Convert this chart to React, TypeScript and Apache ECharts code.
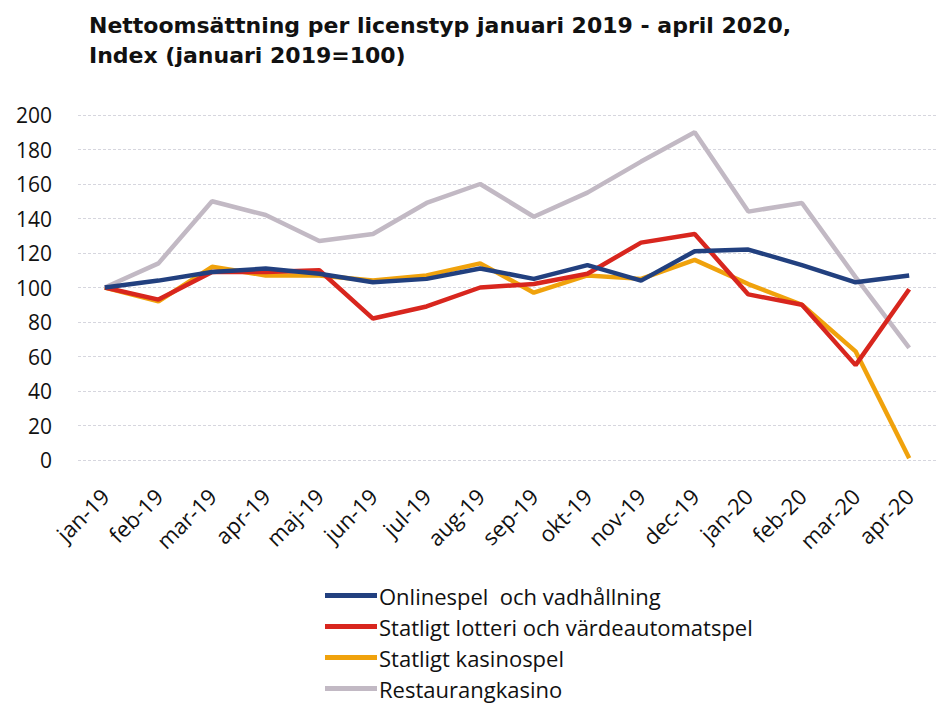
import React, { useEffect, useRef } from "react";
import * as echarts from "echarts";

const categories = ["jan-19","feb-19","mar-19","apr-19","maj-19","jun-19","jul-19","aug-19","sep-19","okt-19","nov-19","dec-19","jan-20","feb-20","mar-20","apr-20"];
const online = [100,104,109,111,108,103,105,111,105,113,104,121,122,113,103,107];
const lotteri = [100,93,109,109,110,82,89,100,102,108,126,131,96,90,55,99];
const kasino = [100,92,112,107,107,104,107,114,97,107,105,116,102,90,63,1];
const restaurang = [100,114,150,142,127,131,149,160,141,155,173,190,144,149,106,65];

const seriesNames = ["Onlinespel  och vadhållning","Statligt lotteri och värdeautomatspel","Statligt kasinospel","Restaurangkasino"];
const colors = ["#22407f","#d8261e","#f0a20c","#c2b9c4"];
const titleLines = ["Nettoomsättning per licenstyp januari 2019 - april 2020,","Index (januari 2019=100)"];

export default function App() {
  const ref = useRef<HTMLDivElement>(null);
  useEffect(() => {
    document.body.style.margin = "0";
    const chart = echarts.init(ref.current!, null, { renderer: "svg" });
    const data = [online, lotteri, kasino, restaurang];
    chart.setOption({
      animation: false,
      backgroundColor: "#ffffff",
      textStyle: { fontFamily: "Open Sans" },
      title: {
        text: titleLines.join("\n"),
        left: 84,
        top: 5,
        textStyle: { fontFamily: "DejaVu Sans", fontWeight: "bold", fontSize: 22, lineHeight: 30, color: "#111" },
      },
      legend: {
        orient: "vertical",
        left: 320,
        top: 579,
        height: 200,
        padding: 5,
        itemWidth: 52,
        itemHeight: 5,
        itemGap: 8,
        icon: "rect",
        data: seriesNames,
        textStyle: { fontSize: 22, lineHeight: 23, color: "#111", padding: [0, 0, 0, -3] },
      },
      grid: { left: 78, width: 866, top: 115, height: 345 },
      xAxis: {
        type: "category",
        data: categories,
        boundaryGap: true,
        axisLine: { show: false },
        axisTick: { show: false },
        axisLabel: { rotate: 45, fontSize: 22, color: "#111", margin: 32, interval: 0 },
      },
      yAxis: {
        type: "value",
        min: 0,
        max: 200,
        interval: 20,
        axisLine: { show: false },
        axisTick: { show: false },
        axisLabel: { fontSize: 21, color: "#111", margin: 26 },
        splitLine: { lineStyle: { color: "#d6d6de", type: [3, 2], width: 1 } },
      },
      series: seriesNames.map((name, i) => ({
        name,
        type: "line",
        data: data[i],
        symbol: "none",
        lineStyle: { color: colors[i], width: 4.5 },
        itemStyle: { color: colors[i] },
        z: 10 - i,
      })),
    });
    return () => chart.dispose();
  }, []);
  return <div ref={ref} style={{ width: 936, height: 705 }} />;
}
